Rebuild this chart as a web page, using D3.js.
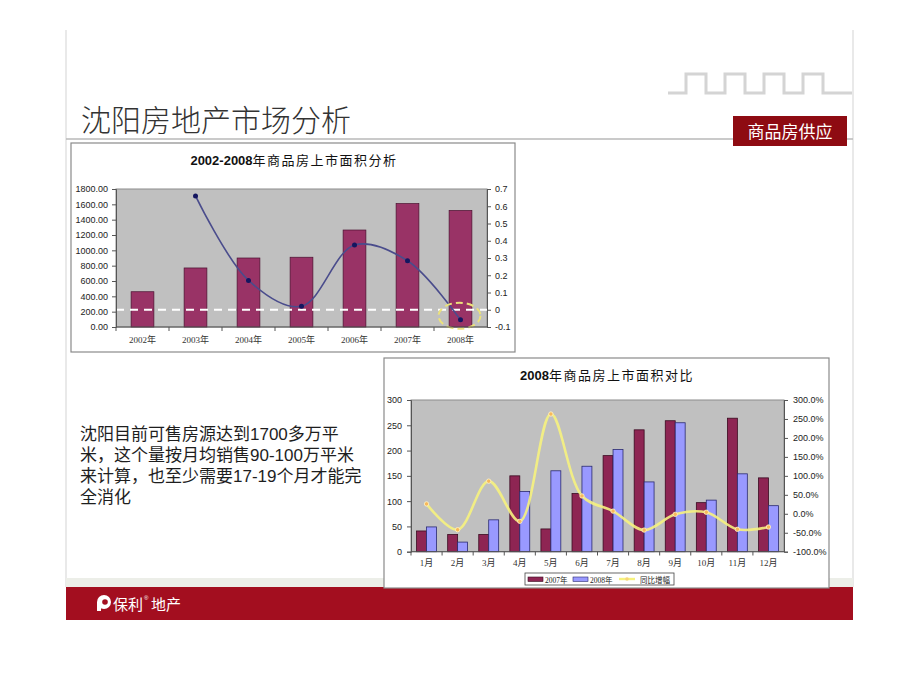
<!DOCTYPE html>
<html><head><meta charset="utf-8">
<script src="https://cdn.jsdelivr.net/npm/d3@7"></script>
<style>
html,body{margin:0;padding:0;background:#fff;}
svg{display:block;}
text{font-family:"Liberation Sans","Noto Sans CJK SC",sans-serif;}
</style></head>
<body>
<svg id="c" width="920" height="690"></svg>
<script>
// ---------- data ----------
const years = ["2002年","2003年","2004年","2005年","2006年","2007年","2008年"];
const supplyArea = [460, 770, 900, 910, 1265, 1610, 1520];
const supplyGrowth = [null, 0.66, 0.17, 0.02, 0.375, 0.284, -0.058];
const leftTicks1 = [0,200,400,600,800,1000,1200,1400,1600,1800];
const rightTicks1 = [-0.1,0,0.1,0.2,0.3,0.4,0.5,0.6,0.7];

const months = ["1月","2月","3月","4月","5月","6月","7月","8月","9月","10月","11月","12月"];
const series2007 = [41, 34, 34, 150, 45, 115, 190, 241, 259, 97, 264, 146];
const series2008 = [49, 19, 63, 119, 160, 169, 202, 138, 255, 102, 154, 91];
const yoyGrowth = [0.26, -0.42, 0.86, -0.20, 2.63, 0.47, 0.07, -0.43, -0.015, 0.04, -0.41, -0.35];
const leftTicks2 = [0,50,100,150,200,250,300];
const rightTicks2 = [-1,-0.5,0,0.5,1,1.5,2,2.5,3];
const legendLabels = ["2007年","2008年","同比增幅"];

const bodyLines = ["沈阳目前可售房源达到1700多万平","米，这个量按月均销售90-100万平米","来计算，也至少需要17-19个月才能完","全消化"];

// ---------- drawing ----------
const svg = d3.select("#c");
svg.append("rect").attr("width",920).attr("height",690).attr("fill","#fff");

// slide edges
svg.append("line").attr("x1",66).attr("x2",66).attr("y1",30).attr("y2",587).attr("stroke","#e2e2e2").attr("stroke-width",1.5);
svg.append("line").attr("x1",853).attr("x2",853).attr("y1",30).attr("y2",587).attr("stroke","#e2e2e2").attr("stroke-width",1.5);

// greek key decoration
(function(){
  const p = d3.path();
  p.moveTo(668,93);
  let x = 686;
  for(let i=0;i<4;i++){
    p.lineTo(x,93); p.lineTo(x,74); p.lineTo(x+20,74); p.lineTo(x+20,93);
    x += 39;
  }
  p.lineTo(852,93);
  svg.append("path").attr("d",p.toString()).attr("fill","none").attr("stroke","#d4d4d4").attr("stroke-width",3);
})();

// title
svg.append("text").attr("x",81).attr("y",131).attr("font-size",30).attr("font-weight",300)
  .attr("fill","#333").style("font-family","'Noto Sans CJK SC',sans-serif").text("沈阳房地产市场分析");
svg.append("line").attr("x1",66).attr("x2",853).attr("y1",139).attr("y2",139).attr("stroke","#b8b8b8").attr("stroke-width",1.5);
svg.append("rect").attr("x",733).attr("y",116).attr("width",114).attr("height",30).attr("fill","#8e0b12");
svg.append("text").attr("x",790).attr("y",138).attr("text-anchor","middle").attr("font-size",17)
  .attr("fill","#fff").style("font-family","'Noto Sans CJK SC',sans-serif").text("商品房供应");

// footer
svg.append("rect").attr("x",66).attr("y",578).attr("width",787).attr("height",9).attr("fill","#eceee8");
svg.append("rect").attr("x",66).attr("y",587).attr("width",787).attr("height",33).attr("fill","#a30e1f");
(function(){
  const g = svg.append("g");
  g.append("circle").attr("cx",104).attr("cy",602).attr("r",7).attr("fill","#fff");
  g.append("rect").attr("x",97).attr("y",602).attr("width",4).attr("height",9).attr("fill","#fff");
  g.append("circle").attr("cx",105).attr("cy",602).attr("r",2.8).attr("fill","#a30e1f");
  g.append("text").attr("x",113).attr("y",610).attr("font-size",15).attr("fill","#fff")
    .style("font-family","'Noto Sans CJK SC',sans-serif").text("保利");
  g.append("text").attr("x",144).attr("y",600).attr("font-size",6).attr("fill","#fff").text("®");
  g.append("text").attr("x",151).attr("y",610).attr("font-size",15).attr("fill","#fff")
    .style("font-family","'Noto Sans CJK SC',sans-serif").text("地产");
})();

// body text
svg.append("g").selectAll("text").data(bodyLines).join("text")
  .attr("x",80).attr("y",(d,i)=>440+i*21).attr("font-size",17).attr("fill","#1e1e1e")
  .style("font-family","'Liberation Sans','Noto Sans CJK SC',sans-serif").text(d=>d);

function styleAxis(g){
  g.select(".domain").attr("stroke","#555");
  g.selectAll(".tick line").attr("stroke","#555");
  g.selectAll(".tick text").attr("font-size",9).attr("fill","#222");
}

// ---------- chart 1 ----------
(function(){
  const g = svg.append("g");
  g.append("rect").attr("x",71).attr("y",143).attr("width",444).attr("height",209)
    .attr("fill","#fff").attr("stroke","#8a8a8a").attr("stroke-width",1.2);
  const t = g.append("text").attr("x",294).attr("y",165).attr("text-anchor","middle").attr("font-size",13).attr("fill","#111");
  t.append("tspan").attr("font-weight","bold").text("2002-2008");
  t.append("tspan").attr("letter-spacing",1.5).style("font-family","'Noto Sans CJK SC',sans-serif").text("年商品房上市面积分析");

  const x = d3.scaleBand().domain(years).range([116,487]);
  const yL = d3.scaleLinear().domain([0,1800]).range([327,189]);
  const yR = d3.scaleLinear().domain([-0.1,0.7]).range([327,189]);
  const bw = x.bandwidth();

  g.append("rect").attr("x",116).attr("y",189).attr("width",371).attr("height",138)
    .attr("fill","#c0c0c0").attr("stroke","#8c8c8c").attr("stroke-width",1);

  g.append("g").selectAll("rect").data(supplyArea).join("rect")
    .attr("x",(d,i)=>x(years[i])+bw*0.285).attr("width",bw*0.43)
    .attr("y",d=>yL(d)).attr("height",d=>yL(0)-yL(d))
    .attr("fill","#993366").attr("stroke","#4a1030").attr("stroke-width",0.7);

  g.append("line").attr("x1",116).attr("x2",487).attr("y1",yR(0)).attr("y2",yR(0))
    .attr("stroke","#fff").attr("stroke-width",2).attr("stroke-dasharray","8,6");

  const pts = supplyGrowth.map((v,i)=>({v,i})).filter(d=>d.v!==null);
  const line = d3.line().x(d=>x(years[d.i])+bw/2).y(d=>yR(d.v)).curve(d3.curveCatmullRom.alpha(0.5));
  g.append("path").attr("d",line(pts)).attr("fill","none").attr("stroke","#4a4c8c").attr("stroke-width",1.6);
  g.append("g").selectAll("circle").data(pts).join("circle")
    .attr("cx",d=>x(years[d.i])+bw/2).attr("cy",d=>yR(d.v)).attr("r",2.5).attr("fill","#141660");

  // highlight circle on last point
  const last = pts[pts.length-1];
  g.append("ellipse").attr("cx",x(years[last.i])+bw/2-1).attr("cy",yR(last.v)-4).attr("rx",21).attr("ry",13)
    .attr("fill","none").attr("stroke","#ece27a").attr("stroke-width",2).attr("stroke-dasharray","7,4");

  const ax = g.append("g").attr("transform","translate(116,0)")
    .call(d3.axisLeft(yL).tickValues(leftTicks1).tickFormat(d3.format(".2f")).tickSize(4).tickPadding(4));
  styleAxis(ax);
  const ar = g.append("g").attr("transform","translate(487,0)")
    .call(d3.axisRight(yR).tickValues(rightTicks1).tickFormat(d=>String(d)).tickSize(4).tickPadding(4));
  styleAxis(ar);

  // x axis
  g.append("line").attr("x1",116).attr("x2",487).attr("y1",327).attr("y2",327).attr("stroke","#555");
  g.append("g").selectAll("line").data(years).join("line")
    .attr("x1",d=>x(d)).attr("x2",d=>x(d)).attr("y1",327).attr("y2",331).attr("stroke","#555");
  g.append("g").selectAll("text").data(years).join("text")
    .attr("x",d=>x(d)+bw/2).attr("y",343).attr("text-anchor","middle").attr("font-size",9).attr("fill","#333")
    .style("font-family","'Liberation Serif','Noto Sans CJK SC',serif").text(d=>d);
})();

// ---------- chart 2 ----------
(function(){
  const g = svg.append("g");
  g.append("rect").attr("x",384).attr("y",358).attr("width",445).attr("height",230)
    .attr("fill","#fff").attr("stroke","#8a8a8a").attr("stroke-width",1.2);
  const t = g.append("text").attr("x",607).attr("y",380).attr("text-anchor","middle").attr("font-size",13).attr("fill","#111");
  t.append("tspan").attr("font-weight","bold").text("2008");
  t.append("tspan").attr("letter-spacing",1.5).style("font-family","'Noto Sans CJK SC',sans-serif").text("年商品房上市面积对比");

  const x = d3.scaleBand().domain(months).range([411,784]);
  const bw = x.bandwidth();
  const xs = d3.scaleBand().domain(["2007","2008"]).range([bw*0.18, bw*0.82]);
  const yL = d3.scaleLinear().domain([0,300]).range([551.7,400]);
  const yR = d3.scaleLinear().domain([-1,3]).range([551.7,400]);

  g.append("rect").attr("x",411).attr("y",400).attr("width",373).attr("height",151.7)
    .attr("fill","#c0c0c0").attr("stroke","#8c8c8c").attr("stroke-width",1);

  g.append("g").selectAll("rect").data(series2007).join("rect")
    .attr("x",(d,i)=>x(months[i])+xs("2007")).attr("width",xs.bandwidth())
    .attr("y",d=>yL(d)).attr("height",d=>yL(0)-yL(d))
    .attr("fill","#8e2553").attr("stroke","#3a0a20").attr("stroke-width",0.8);
  g.append("g").selectAll("rect").data(series2008).join("rect")
    .attr("x",(d,i)=>x(months[i])+xs("2008")).attr("width",xs.bandwidth())
    .attr("y",d=>yL(d)).attr("height",d=>yL(0)-yL(d))
    .attr("fill","#9999ff").attr("stroke","#2a2a70").attr("stroke-width",0.8);

  const line = d3.line().x((d,i)=>x(months[i])+bw/2).y(d=>yR(d)).curve(d3.curveCatmullRom.alpha(0.5));
  g.append("path").attr("d",line(yoyGrowth)).attr("fill","none").attr("stroke","#f6f27e").attr("stroke-width",2.6).attr("stroke-opacity",0.9);
  g.append("g").selectAll("circle").data(yoyGrowth).join("circle")
    .attr("cx",(d,i)=>x(months[i])+bw/2).attr("cy",d=>yR(d)).attr("r",2.2)
    .attr("fill","#f7b85a").attr("stroke","#fff6c8").attr("stroke-width",0.8);

  const ax = g.append("g").attr("transform","translate(411,0)")
    .call(d3.axisLeft(yL).tickValues(leftTicks2).tickFormat(d=>String(d)).tickSize(4).tickPadding(5));
  styleAxis(ax);
  const ar = g.append("g").attr("transform","translate(784,0)")
    .call(d3.axisRight(yR).tickValues(rightTicks2).tickFormat(d=>(d*100).toFixed(1)+"%").tickSize(4).tickPadding(5));
  styleAxis(ar);

  g.append("line").attr("x1",411).attr("x2",784).attr("y1",551.7).attr("y2",551.7).attr("stroke","#555");
  g.append("g").selectAll("line").data(months).join("line")
    .attr("x1",d=>x(d)).attr("x2",d=>x(d)).attr("y1",551.7).attr("y2",555.5).attr("stroke","#555");
  g.append("g").selectAll("text").data(months).join("text")
    .attr("x",d=>x(d)+bw/2).attr("y",566).attr("text-anchor","middle").attr("font-size",9).attr("fill","#333")
    .style("font-family","'Liberation Serif','Noto Sans CJK SC',serif").text(d=>d);

  // legend
  const lg = g.append("g");
  lg.append("rect").attr("x",525).attr("y",573).attr("width",149).attr("height",12).attr("fill","#fff").attr("stroke","#444").attr("stroke-width",0.8);
  const items = [
    {label:legendLabels[0], x:528, type:"bar", fill:"#8e2553", stroke:"#3a0a20"},
    {label:legendLabels[1], x:573, type:"bar", fill:"#9999ff", stroke:"#2a2a70"},
    {label:legendLabels[2], x:619, type:"line", fill:"#f6f27e"}
  ];
  items.forEach(it=>{
    if(it.type==="bar"){
      lg.append("rect").attr("x",it.x).attr("y",577).attr("width",15).attr("height",4.5).attr("fill",it.fill).attr("stroke",it.stroke).attr("stroke-width",0.6);
    } else {
      lg.append("line").attr("x1",it.x).attr("x2",it.x+16).attr("y1",579).attr("y2",579).attr("stroke",it.fill).attr("stroke-width",2.4);
      lg.append("circle").attr("cx",it.x+8).attr("cy",579).attr("r",1.8).attr("fill","#f7d47a");
    }
    lg.append("text").attr("x",it.x+(it.type==="bar"?17:21)).attr("y",582.5).attr("font-size",7.5).attr("fill","#222")
      .style("font-family","'Liberation Serif','Noto Sans CJK SC',serif").text(it.label);
  });
})();
</script>
</body></html>
